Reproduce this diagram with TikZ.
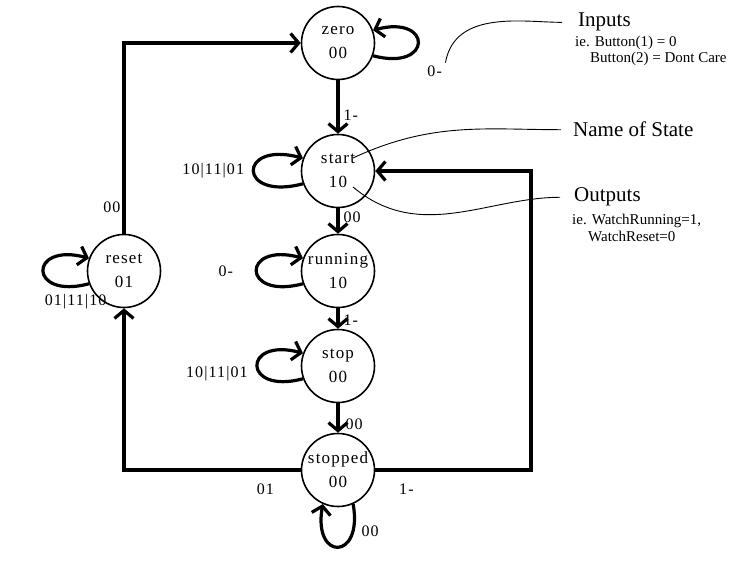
\documentclass[tikz,border=0pt]{standalone}
\usepackage{fontspec}
\setmainfont{Liberation Serif}
\newfontfamily\wide[LetterSpace=7]{Liberation Serif}
\usetikzlibrary{arrows.meta}

\begin{document}
\begin{tikzpicture}[x=1pt,y=1pt,
 state/.style={draw,circle,line width=1.6pt,minimum size=73pt,inner sep=0pt,
  align=center,font=\wide\fontsize{17}{24}\selectfont},
 trans/.style={line width=3.2pt,-{Straight Barb[length=8pt,width=19pt]}},
 lbl/.style={font=\wide\fontsize{16}{16}\selectfont,inner sep=2pt},
 head/.style={font=\fontsize{21}{21}\selectfont,anchor=base west,inner sep=0pt},
 expl/.style={font=\fontsize{15}{15}\selectfont,anchor=base west,inner sep=0pt},
 lead/.style={line width=0.9pt}]

\useasboundingbox (0,0) rectangle (755,-577);

% states
\node[state] (zero)    at (338,-43)  {zero\\00};
\node[state] (start)   at (338,-171) {start\\10};
\node[state] (running) at (338,-271) {running\\10};
\node[state] (stop)    at (338,-366) {stop\\00};
\node[state] (stopped) at (338,-470) {stopped\\00};
\node[state] (reset)   at (124,-271) {reset\\01};

% down the column
\draw[trans] (zero)    -- node[lbl,right=2pt,pos=.65] {1-} (start);
\draw[trans] (start)   -- node[lbl,right=2pt,pos=.35] {00} (running);
\draw[trans] (running) -- node[lbl,right=2pt,pos=.6] {1-} (stop);
\draw[trans] (stop)    -- node[lbl,right=4pt,pos=.7] {00} (stopped);

% the long way round
\coordinate (back) at (531,0);
\draw[trans] (reset) |- node[lbl,left,pos=.07] {00} (zero);
\draw[trans] (stopped) -| node[lbl,below=10pt,pos=.1] {01} (reset);
\draw[trans] (stopped) -| node[lbl,below=10pt,pos=.1] {1-} (back |- start) -- (start);

% self loops
\draw[trans] (zero.-20) to[out=-15,in=15,distance=62pt]
 node[lbl,pos=.2,anchor=west,xshift=22pt,yshift=-14pt] (zl) {0-} (zero.20);
\draw[trans] (start.200) to[out=195,in=165,distance=68pt]
 node[lbl,left=6pt] {10|11|01} (start.160);
\draw[trans] (running.200) to[out=195,in=165,distance=64pt]
 node[lbl,left=20pt] {0-} (running.160);
\draw[trans] (stop.200) to[out=195,in=165,distance=63pt]
 node[lbl,left=6pt,yshift=-8pt] {10|11|01} (stop.160);
\draw[trans] (reset.200) to[out=195,in=165,distance=63pt]
 node[lbl,below=4pt,pos=.12,xshift=6pt] {01|11|10} (reset.160);
\draw[trans] (stopped.-66) to[out=-80,in=-100,distance=58pt]
 node[lbl,right=5pt,pos=.2] {00} (stopped.-114);

% notes
\node[head] (inputs) at (578,-27) {Inputs};
\node[expl] (btn1) at (575,-47) {ie. Button(1) = 0};
\node[expl] (btn2) at (590,-63) {Button(2) = Dont Care};
\node[head] (name) at (573,-137) {Name of State};
\node[head] (outputs) at (574,-202) {Outputs};
\node[expl] (run1) at (572,-225) {ie. WatchRunning=1,};
\node[expl] (run2) at (588,-242) {WatchReset=0};

\coordinate (nameTip) at (353,-158);
\coordinate (outTip) at (353,-187);
\draw[lead,shorten >=16pt] (zl.north east) to[out=80,in=180] (inputs.west);
\draw[lead,shorten >=12pt] (nameTip) to[out=25,in=180] (name.west);
\draw[lead,shorten >=14pt] (outTip) to[out=-40,in=180] (outputs.west);

\end{tikzpicture}
\end{document}
